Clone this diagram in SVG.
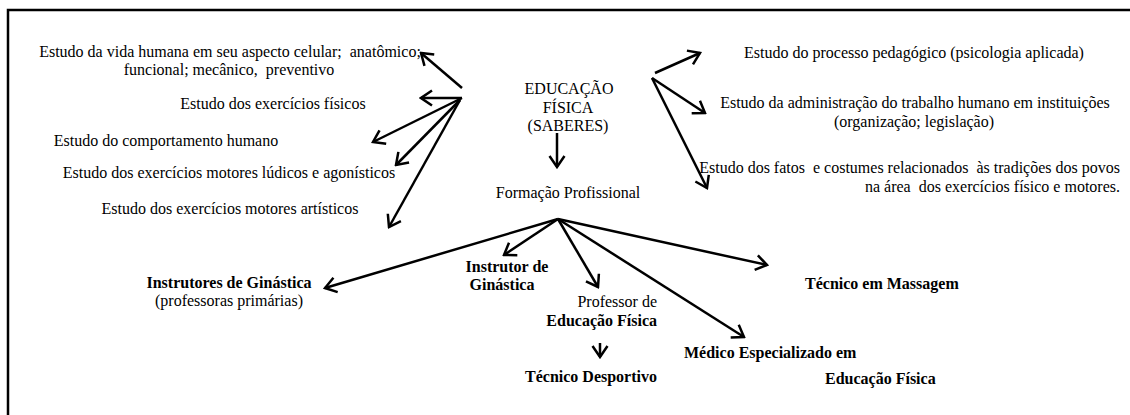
<svg xmlns="http://www.w3.org/2000/svg" width="1130" height="415" viewBox="0 0 1130 415">
<style>
text{font-family:"Liberation Serif","Times New Roman",serif;font-size:16px;fill:#000;white-space:pre}
.b{font-weight:bold}
.m{text-anchor:middle}
.r{text-anchor:end}
.c line{stroke:#000;stroke-width:2.5;marker-end:url(#ah)}
</style>
<defs>
<marker id="ah" viewBox="-14 -9 16 18" markerWidth="16" markerHeight="18" refX="0" refY="0" orient="auto" markerUnits="userSpaceOnUse">
<path d="M-11,-7.5 L0,0 L-11,7.5" fill="none" stroke="#000" stroke-width="2.5"/>
</marker>
</defs>
<rect width="1130" height="415" fill="#fff"/>
<g id="frame"><path d="M8,416 V10 H1131" fill="none" stroke="#000" stroke-width="2.5"/></g>

<g id="root"><text class="m" x="569" y="94">EDUCAÇÃO</text><text class="m" x="568" y="113">FÍSICA</text><text class="m" x="568" y="131">(SABERES)</text></g>
<g id="formacao"><text class="m" x="568" y="198">Formação Profissional</text></g>

<g id="vida"><text class="m" x="230" y="57">Estudo da vida humana em seu aspecto celular;  anatômico;</text><text class="m" x="229" y="75">funcional; mecânico,  preventivo</text></g>
<g id="exercicios"><text class="m" x="273" y="109">Estudo dos exercícios físicos</text></g>
<g id="comportamento"><text class="m" x="166" y="146">Estudo do comportamento humano</text></g>
<g id="ludicos"><text class="m" x="229" y="178">Estudo dos exercícios motores lúdicos e agonísticos</text></g>
<g id="artisticos"><text class="m" x="230" y="214">Estudo dos exercícios motores artísticos</text></g>

<g id="pedagogico"><text class="m" x="914" y="58">Estudo do processo pedagógico (psicologia aplicada)</text></g>
<g id="administracao"><text class="m" x="915" y="108">Estudo da administração do trabalho humano em instituições</text><text class="m" x="914" y="127">(organização; legislação)</text></g>
<g id="fatos"><text class="r" x="1120" y="173">Estudo dos fatos  e costumes relacionados  às tradições dos povos</text><text class="r" x="1120" y="192">na área  dos exercícios físico e motores.</text></g>

<g id="instrutores"><text class="m b" x="229" y="288">Instrutores de Ginástica</text><text class="m" x="229" y="306">(professoras primárias)</text></g>
<g id="instrutor"><text class="m b" x="507" y="272">Instrutor de</text><text class="m b" x="502" y="290">Ginástica</text></g>
<g id="professor"><text class="r" x="657" y="307">Professor de</text><text class="r b" x="657" y="326">Educação Física</text></g>
<g id="desportivo"><text class="r b" x="657" y="382">Técnico Desportivo</text></g>
<g id="massagem"><text class="b" x="805" y="289">Técnico em Massagem</text></g>
<g id="medico"><text class="b" x="684" y="358">Médico Especializado em</text><text class="b" x="825" y="384">Educação Física</text></g>

<g id="connectors" class="c">
<line x1="462" y1="88" x2="421" y2="53"/>
<line x1="462" y1="98" x2="421" y2="98"/>
<line x1="462" y1="98" x2="373" y2="142"/>
<line x1="460" y1="100" x2="396" y2="165"/>
<line x1="460" y1="100" x2="389" y2="227"/>
<line x1="655" y1="73" x2="700" y2="53"/>
<line x1="652" y1="78" x2="705" y2="113"/>
<line x1="652" y1="78" x2="707" y2="188"/>
<line x1="557" y1="133" x2="557" y2="167"/>
<line x1="558" y1="219" x2="325" y2="288"/>
<line x1="558" y1="219" x2="504" y2="255"/>
<line x1="558" y1="219" x2="598" y2="287"/>
<line x1="558" y1="219" x2="767" y2="265"/>
<line x1="558" y1="219" x2="744" y2="337"/>
<line x1="600" y1="343" x2="600" y2="357"/>
</g>
</svg>
